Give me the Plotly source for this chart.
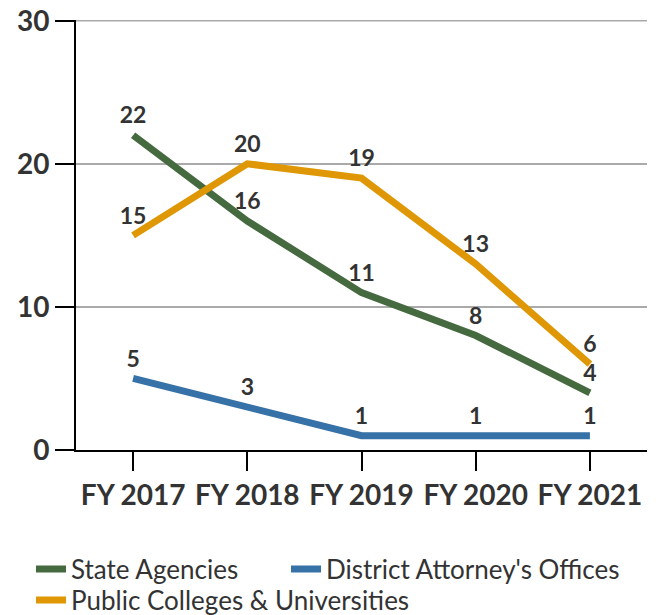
import plotly.graph_objects as go

years = ["FY 2017", "FY 2018", "FY 2019", "FY 2020", "FY 2021"]
state_agencies = [22, 16, 11, 8, 4]
district_attorneys = [5, 3, 1, 1, 1]
public_colleges = [15, 20, 19, 13, 6]
y_ticks = [0, 10, 20, 30]

# page body has an 8px default margin, so the figure is drawn 8px smaller
W, H = 650, 607
series = [
    ("State Agencies", state_agencies, "#466a3f", "legend", 23, 561),
    ("District Attorney's Offices", district_attorneys, "#3672a8", "legend2", 278, 561),
    ("Public Colleges & Universities", public_colleges, "#df9705", "legend3", 23, 592),
]

fig = go.Figure()
legends = {}
for name, vals, color, lg, lx, ly in series:
    fig.add_trace(go.Scatter(
        x=years, y=vals, name=name, mode="lines+markers+text",
        line=dict(color=color, width=7),
        marker=dict(size=8, color="rgba(0,0,0,0)"),
        text=[str(v) for v in vals], textposition="top center",
        textfont=dict(family="Lato", size=23, color="#333333", weight="bold"),
        cliponaxis=False, legend=lg,
    ))
    legends[lg] = dict(
        orientation="h", xref="container", yref="container",
        x=lx / W, y=1 - ly / H, xanchor="left", yanchor="middle",
        font=dict(family="Lato", size=26, color="#333333"),
        bgcolor="rgba(0,0,0,0)", borderwidth=0,
    )

# top gridline (plotly omits gridlines that sit on the plot edge)
fig.add_shape(type="line", xref="paper", yref="y", x0=0, x1=1,
              y0=y_ticks[-1], y1=y_ticks[-1],
              line=dict(color="#aaaaaa", width=1.5), layer="below")

fig.update_layout(
    width=W, height=H,
    margin=dict(l=68, r=11, t=12, b=165, autoexpand=False),
    plot_bgcolor="white", paper_bgcolor="white",
    font=dict(family="Lato", color="#333333"),
    showlegend=True,
    **legends,
)
fig.update_xaxes(
    range=[-0.5, 4.5],
    showline=True, linecolor="black", linewidth=2,
    ticks="outside", ticklen=19, tickwidth=2, tickcolor="black",
    tickfont=dict(family="Lato", size=28, color="#333333", weight="bold"),
    showgrid=False, automargin=False,
)
fig.update_yaxes(
    range=[0, 30.05], tickvals=y_ticks,
    showline=True, linecolor="black", linewidth=2,
    ticks="outside", ticklen=19, tickwidth=2, tickcolor="black",
    tickfont=dict(family="Lato", size=28, color="#333333", weight="bold"),
    ticklabeloverflow="allow",
    showgrid=True, gridcolor="#aaaaaa", gridwidth=1.5,
    zeroline=False, automargin=False,
)

fig.write_html("out.html")
